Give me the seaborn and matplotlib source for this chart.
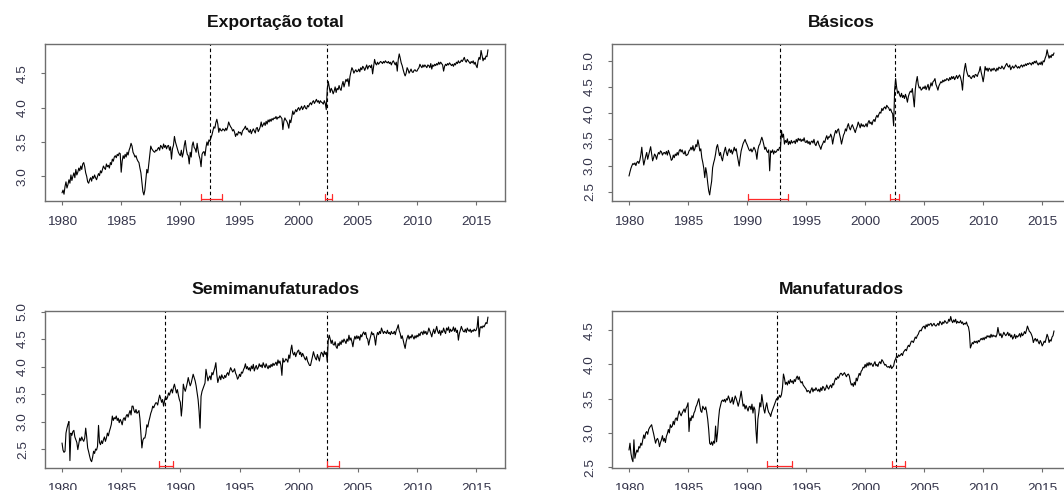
import numpy as np
import pandas as pd
import matplotlib
matplotlib.use("Agg")
import matplotlib.pyplot as plt
import matplotlib.transforms as mtransforms
import seaborn as sns

# Monthly log-export series, January 1980 to January 2016
START_YEAR = 1980

exportacao_total = [
    2.76, 2.80, 2.74, 2.85, 2.92, 2.83, 2.88, 2.95, 2.90, 3.02, 2.94, 3.00,
    3.05, 2.98, 3.10, 3.02, 3.06, 3.12, 3.08, 3.15, 3.10, 3.18, 3.20, 3.14,
    3.05, 3.00, 2.92, 2.90, 2.95, 2.98, 2.93, 3.00, 2.97, 3.02, 2.98, 2.95,
    3.00, 3.04, 3.01, 3.08, 3.05, 3.10, 3.15, 3.12, 3.10, 3.18, 3.14, 3.16,
    3.12, 3.20, 3.17, 3.25, 3.22, 3.28, 3.30, 3.27, 3.32, 3.30, 3.34, 3.33,
    3.06, 3.22, 3.30, 3.26, 3.32, 3.28, 3.35, 3.31, 3.38, 3.42, 3.48, 3.44,
    3.35, 3.32, 3.28, 3.30, 3.25, 3.22, 3.20, 3.12, 3.05, 2.92, 2.78, 2.73,
    2.80, 2.95, 3.10, 3.05, 3.18, 3.30, 3.44, 3.40, 3.38, 3.36, 3.35, 3.38,
    3.37, 3.40, 3.42, 3.38, 3.45, 3.43, 3.40, 3.47, 3.42, 3.45, 3.40, 3.44,
    3.45, 3.38, 3.43, 3.25, 3.40, 3.45, 3.58, 3.50, 3.45, 3.40, 3.35, 3.32,
    3.30, 3.38, 3.28, 3.34, 3.45, 3.52, 3.40, 3.32, 3.30, 3.18, 3.35, 3.28,
    3.45, 3.50, 3.42, 3.40, 3.35, 3.48, 3.38, 3.30, 3.25, 3.14, 3.32, 3.35,
    3.36, 3.30, 3.42, 3.50, 3.45, 3.53, 3.51, 3.56, 3.60, 3.66, 3.72, 3.70,
    3.78, 3.83, 3.76, 3.64, 3.70, 3.67, 3.66, 3.69, 3.68, 3.66, 3.70, 3.67,
    3.72, 3.79, 3.75, 3.72, 3.70, 3.66, 3.68, 3.64, 3.58, 3.62, 3.60, 3.65,
    3.63, 3.64, 3.60, 3.66, 3.68, 3.70, 3.73, 3.68, 3.70, 3.66, 3.64, 3.68,
    3.62, 3.66, 3.69, 3.66, 3.63, 3.70, 3.71, 3.65, 3.68, 3.72, 3.79, 3.72,
    3.75, 3.78, 3.74, 3.80, 3.76, 3.82, 3.79, 3.83, 3.80, 3.84, 3.82, 3.85,
    3.84, 3.87, 3.83, 3.86, 3.85, 3.88, 3.86, 3.84, 3.68, 3.80, 3.85, 3.82,
    3.80, 3.76, 3.70, 3.82, 3.78, 3.86, 3.95, 3.90, 3.93, 3.97, 3.94, 3.98,
    4.00, 3.96, 3.99, 4.02, 3.97, 4.00, 4.03, 3.99, 3.98, 4.03, 4.01, 4.05,
    4.07, 4.04, 4.08, 4.10, 4.06, 4.09, 4.12, 4.08, 4.10, 4.06, 4.10, 4.08,
    4.07, 4.05, 4.10, 4.06, 3.97, 4.27, 4.38, 4.30, 4.22, 4.28, 4.25, 4.20,
    4.24, 4.30, 4.22, 4.28, 4.26, 4.32, 4.27, 4.25, 4.33, 4.38, 4.30, 4.36,
    4.41, 4.38, 4.42, 4.31, 4.45, 4.52, 4.58, 4.55, 4.50, 4.53, 4.55, 4.52,
    4.53, 4.56, 4.52, 4.58, 4.55, 4.60, 4.58, 4.54, 4.58, 4.62, 4.56, 4.60,
    4.61, 4.58, 4.62, 4.49, 4.60, 4.70, 4.64, 4.62, 4.66, 4.63, 4.65, 4.67,
    4.66, 4.64, 4.67, 4.65, 4.68, 4.66, 4.65, 4.67, 4.64, 4.66, 4.62, 4.66,
    4.68, 4.65, 4.62, 4.66, 4.53, 4.70, 4.78, 4.72, 4.65, 4.61, 4.55, 4.50,
    4.46, 4.50, 4.58, 4.55, 4.50, 4.53, 4.56, 4.52, 4.51, 4.54, 4.55, 4.53,
    4.53, 4.56, 4.58, 4.63, 4.60, 4.58, 4.62, 4.59, 4.62, 4.60, 4.58, 4.62,
    4.61, 4.58, 4.64, 4.56, 4.62, 4.60, 4.63, 4.61, 4.64, 4.62, 4.66, 4.63,
    4.66, 4.64, 4.62, 4.53, 4.60, 4.63, 4.61, 4.64, 4.62, 4.65, 4.63, 4.61,
    4.63, 4.60, 4.64, 4.62, 4.66, 4.64, 4.68, 4.65, 4.66, 4.69, 4.67, 4.70,
    4.73, 4.68, 4.66, 4.70, 4.68, 4.66, 4.64, 4.67, 4.65, 4.68, 4.63, 4.66,
    4.61, 4.58, 4.68, 4.73, 4.70, 4.83, 4.76, 4.68, 4.72, 4.70, 4.75, 4.74,
    4.84,
]

basicos = [
    2.80, 2.88, 2.95, 3.00, 3.04, 3.02, 3.05, 3.00, 3.06, 3.08, 3.04, 3.10,
    3.20, 3.35, 3.15, 3.01, 3.10, 3.18, 3.25, 3.12, 3.20, 3.28, 3.36, 3.22,
    3.09, 3.15, 3.22, 3.19, 3.12, 3.20, 3.25, 3.22, 3.28, 3.26, 3.20, 3.24,
    3.25, 3.22, 3.27, 3.20, 3.29, 3.24, 3.18, 3.10, 3.12, 3.20, 3.15, 3.22,
    3.19, 3.25, 3.20, 3.28, 3.31, 3.26, 3.30, 3.24, 3.22, 3.28, 3.19, 3.20,
    3.22, 3.28, 3.30, 3.35, 3.30, 3.38, 3.28, 3.32, 3.40, 3.36, 3.49, 3.40,
    3.28, 3.32, 3.15, 3.06, 2.95, 2.77, 2.96, 2.85, 2.67, 2.52, 2.44, 2.58,
    2.70, 2.96, 3.05, 3.12, 3.22, 3.35, 3.40, 3.30, 3.19, 3.25, 3.15, 3.09,
    3.20, 3.28, 3.35, 3.25, 3.19, 3.28, 3.32, 3.25, 3.30, 3.22, 3.28, 3.35,
    3.28, 3.32, 3.20, 3.10, 2.99, 3.15, 3.28, 3.35, 3.42, 3.46, 3.50, 3.44,
    3.40, 3.35, 3.30, 3.28, 3.32, 3.26, 3.30, 3.35, 3.31, 3.25, 3.12, 3.30,
    3.38, 3.41, 3.48, 3.54, 3.48, 3.40, 3.31, 3.35, 3.28, 3.25, 3.30, 2.90,
    3.28, 3.25, 3.30, 3.22, 3.28, 3.25, 3.27, 3.31, 3.29, 3.35, 3.33, 3.67,
    3.54, 3.60, 3.41, 3.48, 3.44, 3.51, 3.40, 3.46, 3.41, 3.48, 3.43, 3.45,
    3.47, 3.42, 3.50, 3.45, 3.52, 3.48, 3.51, 3.46, 3.50, 3.47, 3.53, 3.45,
    3.44, 3.48, 3.42, 3.46, 3.40, 3.45, 3.47, 3.43, 3.50, 3.41, 3.38, 3.44,
    3.47, 3.40, 3.36, 3.31, 3.38, 3.42, 3.47, 3.44, 3.52, 3.57, 3.50, 3.55,
    3.54, 3.60, 3.55, 3.41, 3.52, 3.60, 3.67, 3.62, 3.68, 3.70, 3.60, 3.52,
    3.41, 3.50, 3.58, 3.62, 3.70, 3.66, 3.75, 3.80, 3.72, 3.68, 3.74, 3.78,
    3.73, 3.68, 3.63, 3.70, 3.75, 3.83, 3.78, 3.72, 3.80, 3.75, 3.78, 3.74,
    3.76, 3.80, 3.74, 3.82, 3.86, 3.80, 3.83, 3.78, 3.85, 3.88, 3.84, 3.92,
    3.96, 3.92, 3.98, 4.02, 4.00, 4.09, 4.05, 4.10, 4.12, 4.08, 4.15, 4.12,
    4.10, 4.05, 4.08, 4.02, 3.99, 3.76, 4.44, 4.66, 4.50, 4.38, 4.42, 4.35,
    4.31, 4.38, 4.30, 4.34, 4.28, 4.36, 4.30, 4.21, 4.32, 4.38, 4.42, 4.40,
    4.47, 4.30, 4.12, 4.45, 4.60, 4.70, 4.55, 4.48, 4.50, 4.44, 4.46, 4.50,
    4.47, 4.52, 4.45, 4.50, 4.55, 4.44, 4.50, 4.58, 4.52, 4.60, 4.62, 4.66,
    4.55, 4.50, 4.44, 4.52, 4.56, 4.60, 4.58, 4.63, 4.60, 4.64, 4.62, 4.66,
    4.65, 4.62, 4.68, 4.64, 4.70, 4.66, 4.70, 4.64, 4.68, 4.72, 4.66, 4.70,
    4.73, 4.68, 4.60, 4.44, 4.70, 4.85, 4.95, 4.82, 4.75, 4.70, 4.72, 4.68,
    4.66, 4.70, 4.72, 4.68, 4.74, 4.73, 4.70, 4.76, 4.80, 4.89, 4.78, 4.70,
    4.60, 4.72, 4.89, 4.82, 4.86, 4.80, 4.86, 4.84, 4.80, 4.85, 4.82, 4.86,
    4.83, 4.80, 4.86, 4.82, 4.88, 4.86, 4.85, 4.90, 4.87, 4.84, 4.88, 4.92,
    4.95, 4.90, 4.88, 4.92, 4.83, 4.87, 4.90, 4.86, 4.88, 4.92, 4.89, 4.86,
    4.89, 4.86, 4.90, 4.92, 4.88, 4.92, 4.90, 4.94, 4.91, 4.95, 4.93, 4.96,
    4.95, 4.92, 4.97, 4.94, 4.99, 4.96, 5.00, 4.95, 4.92, 4.96, 4.93, 4.98,
    4.92, 5.00, 4.98, 5.05, 5.10, 5.21, 5.12, 5.05, 5.10, 5.06, 5.12, 5.10,
    5.15,
]

semimanufaturados = [
    2.61, 2.48, 2.44, 2.46, 2.79, 2.88, 2.95, 3.00, 2.29, 2.79, 2.75, 2.82,
    2.84, 2.72, 2.67, 2.62, 2.49, 2.60, 2.70, 2.65, 2.72, 2.67, 2.64, 2.70,
    2.88, 2.72, 2.52, 2.45, 2.37, 2.30, 2.27, 2.35, 2.46, 2.42, 2.50, 2.48,
    2.55, 2.93, 2.62, 2.58, 2.65, 2.60, 2.67, 2.72, 2.64, 2.70, 2.79, 2.74,
    2.82, 2.88, 2.95, 3.10, 3.02, 3.07, 3.05, 3.10, 3.02, 3.06, 2.98, 3.04,
    3.00, 2.94, 3.04, 3.07, 3.02, 3.10, 3.13, 3.08, 3.15, 3.20, 3.12, 3.28,
    3.28, 3.20, 3.16, 3.22, 3.15, 3.17, 3.20, 3.05, 2.79, 2.52, 2.66, 2.70,
    2.70, 2.78, 2.94, 2.90, 3.00, 3.07, 3.15, 3.20, 3.28, 3.25, 3.30, 3.34,
    3.34, 3.30, 3.40, 3.48, 3.42, 3.35, 3.40, 3.28, 3.38, 3.46, 3.40, 3.44,
    3.52, 3.48, 3.55, 3.59, 3.52, 3.62, 3.68, 3.60, 3.52, 3.58, 3.48, 3.40,
    3.35, 3.10, 3.30, 3.68, 3.60, 3.55, 3.62, 3.70, 3.80, 3.72, 3.65, 3.70,
    3.78, 3.86, 3.80, 3.74, 3.65, 3.52, 3.40, 3.19, 2.88, 3.46, 3.55, 3.60,
    3.65, 3.70, 3.95, 3.85, 3.74, 3.80, 3.83, 3.76, 3.89, 3.85, 3.92, 3.98,
    4.07, 3.85, 3.71, 3.78, 3.83, 3.76, 3.85, 3.80, 3.78, 3.84, 3.80, 3.86,
    3.89, 3.84, 3.92, 3.98, 3.94, 3.90, 3.92, 3.96, 3.88, 3.84, 3.77, 3.80,
    3.86, 3.82, 3.90, 3.88, 3.94, 3.98, 4.05, 3.96, 4.00, 3.94, 3.98, 3.92,
    4.01, 3.96, 4.04, 3.92, 3.98, 4.02, 3.95, 3.98, 4.05, 4.00, 4.03, 3.98,
    4.07, 4.02, 3.98, 4.05, 4.00, 3.96, 4.02, 3.98, 4.04, 4.00, 4.06, 4.02,
    4.05, 4.08, 4.02, 4.12, 4.06, 4.10, 4.02, 3.84, 4.15, 4.08, 4.10, 4.14,
    4.12, 4.08, 4.21, 4.15, 4.30, 4.39, 4.25, 4.21, 4.26, 4.18, 4.24, 4.28,
    4.30, 4.22, 4.26, 4.18, 4.24, 4.20, 4.15, 4.12, 4.18, 4.10, 4.06, 4.02,
    4.02, 4.10, 4.18, 4.27, 4.20, 4.15, 4.12, 4.22, 4.16, 4.10, 4.20, 4.26,
    4.24, 4.18, 4.28, 4.22, 4.26, 4.09, 4.48, 4.57, 4.50, 4.42, 4.48, 4.40,
    4.39, 4.45, 4.36, 4.33, 4.42, 4.38, 4.45, 4.40, 4.48, 4.44, 4.50, 4.46,
    4.42, 4.50, 4.46, 4.57, 4.48, 4.52, 4.45, 4.36, 4.48, 4.55, 4.50, 4.56,
    4.51, 4.55, 4.48, 4.58, 4.54, 4.60, 4.63, 4.58, 4.62, 4.52, 4.50, 4.39,
    4.48, 4.55, 4.63, 4.58, 4.60, 4.52, 4.39, 4.55, 4.62, 4.58, 4.64, 4.60,
    4.70, 4.65, 4.60, 4.64, 4.62, 4.60, 4.66, 4.60, 4.62, 4.58, 4.64, 4.60,
    4.60, 4.64, 4.58, 4.66, 4.70, 4.76, 4.65, 4.60, 4.51, 4.56, 4.48, 4.40,
    4.33, 4.45, 4.52, 4.57, 4.50, 4.55, 4.52, 4.58, 4.54, 4.50, 4.56, 4.52,
    4.57, 4.54, 4.60, 4.56, 4.62, 4.63, 4.58, 4.65, 4.60, 4.64, 4.58, 4.62,
    4.70, 4.65, 4.60, 4.54, 4.62, 4.68, 4.60, 4.66, 4.73, 4.64, 4.60, 4.66,
    4.57, 4.65, 4.62, 4.70, 4.64, 4.60, 4.70, 4.66, 4.72, 4.62, 4.68, 4.64,
    4.66, 4.72, 4.64, 4.70, 4.62, 4.66, 4.48, 4.60, 4.66, 4.73, 4.68, 4.64,
    4.63, 4.68, 4.62, 4.70, 4.66, 4.64, 4.68, 4.62, 4.66, 4.64, 4.68, 4.65,
    4.66, 4.72, 4.91, 4.54, 4.70, 4.73, 4.70, 4.74, 4.72, 4.76, 4.80, 4.78,
    4.90,
]

manufaturados = [
    2.75, 2.85, 2.70, 2.62, 2.58, 2.90, 2.63, 2.70, 2.75, 2.72, 2.80, 2.78,
    2.85, 2.82, 2.90, 2.97, 2.92, 3.00, 3.02, 2.98, 3.05, 3.08, 3.10, 3.12,
    3.05, 2.99, 2.92, 2.85, 2.90, 2.92, 2.88, 2.80, 2.86, 2.90, 2.96, 2.88,
    2.92, 2.86, 2.95, 2.99, 3.05, 3.00, 3.12, 3.08, 3.10, 3.17, 3.12, 3.20,
    3.22, 3.18, 3.26, 3.32, 3.28, 3.25, 3.29, 3.32, 3.35, 3.30, 3.36, 3.39,
    3.44, 3.02, 3.22, 3.18, 3.25, 3.22, 3.29, 3.32, 3.38, 3.41, 3.46, 3.50,
    3.40, 3.32, 3.30, 3.39, 3.36, 3.34, 3.38, 3.30, 3.20, 3.05, 2.85, 2.83,
    2.87, 2.82, 2.88, 2.85, 3.10, 2.87, 3.00, 3.20, 3.34, 3.40, 3.46, 3.48,
    3.46, 3.49, 3.45, 3.50, 3.48, 3.54, 3.50, 3.44, 3.46, 3.52, 3.42, 3.48,
    3.54, 3.50, 3.45, 3.39, 3.45, 3.52, 3.61, 3.50, 3.39, 3.42, 3.35, 3.40,
    3.36, 3.32, 3.38, 3.39, 3.34, 3.42, 3.29, 3.38, 3.34, 3.05, 2.85, 3.20,
    3.30, 3.44, 3.38, 3.56, 3.45, 3.35, 3.29, 3.38, 3.44, 3.35, 3.30, 3.28,
    3.24, 3.30, 3.34, 3.38, 3.42, 3.46, 3.50, 3.48, 3.51, 3.55, 3.52, 3.56,
    3.66, 3.86, 3.80, 3.71, 3.74, 3.70, 3.76, 3.72, 3.78, 3.74, 3.76, 3.72,
    3.78, 3.75, 3.80, 3.83, 3.78, 3.82, 3.76, 3.73, 3.75, 3.70, 3.68, 3.66,
    3.64, 3.60, 3.62, 3.61, 3.58, 3.63, 3.66, 3.60, 3.64, 3.62, 3.66, 3.63,
    3.61, 3.64, 3.60, 3.66, 3.62, 3.68, 3.66, 3.62, 3.65, 3.70, 3.66, 3.64,
    3.68, 3.70, 3.66, 3.72, 3.70, 3.76, 3.80, 3.78, 3.82, 3.80, 3.84, 3.87,
    3.87, 3.84, 3.86, 3.88, 3.85, 3.82, 3.85, 3.86, 3.83, 3.75, 3.70, 3.72,
    3.68, 3.74, 3.70, 3.80, 3.76, 3.82, 3.87, 3.84, 3.90, 3.92, 3.96, 3.95,
    4.00, 3.96, 4.02, 3.98, 4.03, 3.99, 4.02, 4.00, 3.97, 4.01, 4.04, 3.98,
    4.00, 3.97, 4.02, 4.04, 4.01, 4.07, 4.05, 4.02, 3.99, 4.00, 3.97, 3.96,
    3.97, 3.95, 3.99, 3.94, 3.96, 3.98, 4.05, 4.08, 4.12, 4.10, 4.14, 4.12,
    4.14, 4.16, 4.13, 4.18, 4.20, 4.22, 4.20, 4.25, 4.28, 4.26, 4.30, 4.34,
    4.34, 4.32, 4.36, 4.40, 4.38, 4.42, 4.44, 4.48, 4.50, 4.49, 4.53, 4.55,
    4.56, 4.52, 4.58, 4.55, 4.59, 4.57, 4.59, 4.60, 4.56, 4.58, 4.60, 4.57,
    4.56, 4.58, 4.60, 4.57, 4.63, 4.61, 4.58, 4.62, 4.60, 4.64, 4.62, 4.60,
    4.61, 4.66, 4.63, 4.70, 4.64, 4.61, 4.65, 4.62, 4.66, 4.60, 4.63, 4.61,
    4.61, 4.64, 4.60, 4.62, 4.58, 4.60, 4.59, 4.62, 4.57, 4.55, 4.47, 4.24,
    4.28, 4.32, 4.30, 4.34, 4.32, 4.34, 4.31, 4.35, 4.33, 4.36, 4.38, 4.36,
    4.39, 4.36, 4.40, 4.38, 4.42, 4.40, 4.42, 4.39, 4.44, 4.40, 4.43, 4.41,
    4.42, 4.40, 4.44, 4.54, 4.46, 4.42, 4.45, 4.39, 4.43, 4.47, 4.44, 4.42,
    4.44, 4.47, 4.42, 4.45, 4.40, 4.43, 4.37, 4.40, 4.44, 4.38, 4.42, 4.40,
    4.42, 4.45, 4.40, 4.46, 4.42, 4.44, 4.48, 4.45, 4.50, 4.56, 4.52, 4.48,
    4.47, 4.44, 4.40, 4.32, 4.36, 4.38, 4.34, 4.37, 4.33, 4.30, 4.35, 4.32,
    4.27, 4.30, 4.34, 4.32, 4.38, 4.44, 4.40, 4.32, 4.36, 4.34, 4.40, 4.42,
    4.49,
]

# Panel titles
titles = ["Exportação total", "Básicos", "Semimanufaturados", "Manufaturados"]

# Estimated break dates and their confidence intervals
breaks_total = [1992.50, 2002.42]
ci_total = [(1991.72, 1993.50), (2002.26, 2002.85)]
breaks_basicos = [1992.83, 2002.50]
ci_basicos = [(1990.06, 1993.45), (2002.14, 2002.88)]
breaks_semi = [1988.71, 2002.40]
ci_semi = [(1988.17, 1989.41), (2002.37, 2003.44)]
breaks_manuf = [1992.52, 2002.58]
ci_manuf = [(1991.69, 1993.79), (2002.28, 2003.37)]

year_ticks = [1980, 1985, 1990, 1995, 2000, 2005, 2010, 2015]

sns.set_theme(style="white")
plt.rcParams["font.family"] = ["Liberation Sans", "DejaVu Sans"]

fig = plt.figure(figsize=(10.64, 4.90), dpi=100)

W, H = 1064.0, 490.0
panel_px = [  # left, top, right, bottom in pixels
    (45, 44, 505, 200.7),
    (612, 44, 1071, 200.7),
    (45, 310.7, 505, 467.5),
    (612, 310.7, 1071, 467.5),
]

panels = [
    (exportacao_total, breaks_total, ci_total),
    (basicos, breaks_basicos, ci_basicos),
    (semimanufaturados, breaks_semi, ci_semi),
    (manufaturados, breaks_manuf, ci_manuf),
]

axis_gray = "#6e6e6e"
label_col = "#34344a"

for (l, t, r, b), title, (vals, brks, cis) in zip(panel_px, titles, panels):
    ax = fig.add_axes([l / W, 1 - b / H, (r - l) / W, (b - t) / H])
    vals = np.asarray(vals)
    time = START_YEAR + np.arange(len(vals)) / 12.0
    df = pd.DataFrame({"ano": time, "valor": vals})
    sns.lineplot(data=df, x="ano", y="valor", ax=ax, color="black",
                 linewidth=0.8)

    # 4% range extension on both axes
    x0, x1 = time.min(), time.max()
    y0, y1 = vals.min(), vals.max()
    dx, dy = 0.04 * (x1 - x0), 0.04 * (y1 - y0)
    ax.set_xlim(x0 - dx, x1 + dx)
    ax.set_ylim(y0 - dy, y1 + dy)

    for bp in brks:
        ax.axvline(bp, color="black", linewidth=0.8, linestyle=(0, (3.2, 2.4)))

    trans = mtransforms.blended_transform_factory(ax.transData, ax.transAxes)
    for lo, hi in cis:
        ax.plot([lo, hi], [0.012, 0.012], transform=trans, color="#ff2a2a",
                linewidth=0.9, solid_capstyle="butt")
        for xc in (lo, hi):
            ax.plot([xc, xc], [0.0, 0.042], transform=trans, color="#ff2a2a",
                    linewidth=0.9)

    ax.set_title(title, fontsize=12.6, fontweight="bold", pad=12,
                 color="#111111")
    ax.set_xlabel("")
    ax.set_ylabel("")
    ax.set_xticks(year_ticks)
    ax.set_xticklabels([str(y) for y in year_ticks])
    ylo, yhi = ax.get_ylim()
    yt = np.arange(np.ceil(ylo * 2) / 2, yhi, 0.5)
    ax.set_yticks(yt)
    ax.set_yticklabels([f"{v:.1f}" for v in yt], rotation=90, va="center")
    ax.tick_params(axis="x", direction="out", length=4.3 * 0.72, width=0.8,
                   color=axis_gray, labelsize=9.7, labelcolor=label_col,
                   pad=8.0, bottom=True)
    ax.tick_params(axis="y", direction="out", length=4.3 * 0.72, width=0.8,
                   color=axis_gray, labelsize=9.7, labelcolor=label_col,
                   pad=8.5, left=True)
    for sp in ax.spines.values():
        sp.set_color(axis_gray)
        sp.set_linewidth(1.0)
        sp.set_visible(True)
    ax.grid(False)
    ax.set_facecolor("white")

fig.savefig("out.png", dpi=100, facecolor="white")
